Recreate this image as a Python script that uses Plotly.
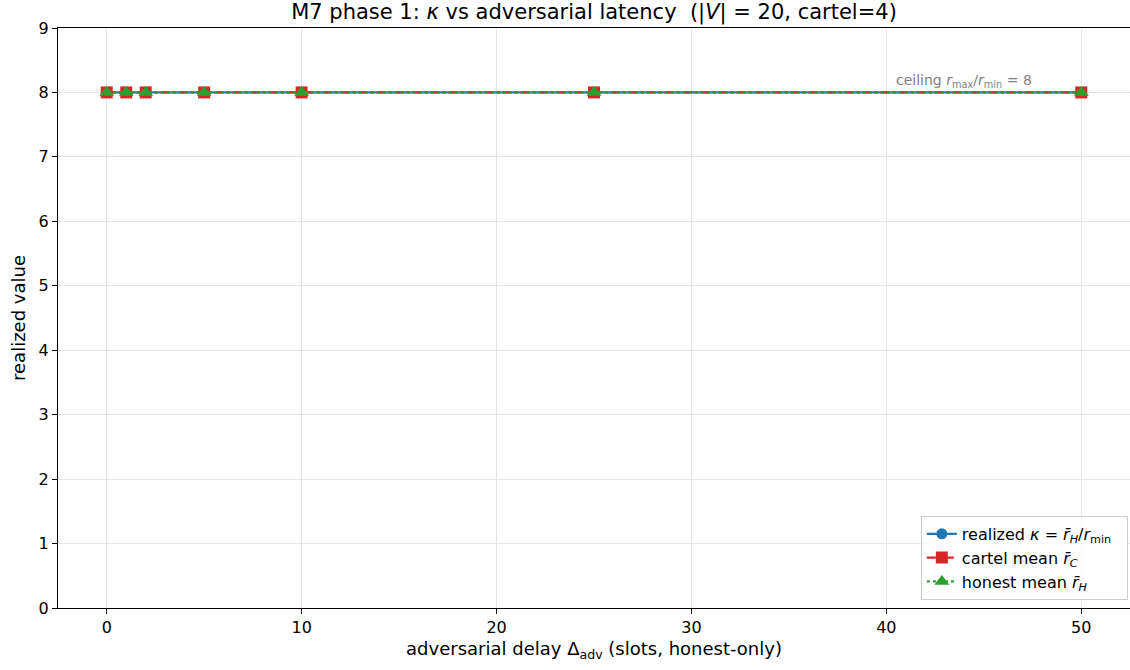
import plotly.graph_objects as go

delays = [0, 1, 2, 5, 10, 25, 50]
kappa = [8, 8, 8, 8, 8, 8, 8]
cartel_mean = [8, 8, 8, 8, 8, 8, 8]
honest_mean = [8, 8, 8, 8, 8, 8, 8]
ceiling = 8
x_ticks = [0, 10, 20, 30, 40, 50]
y_ticks = list(range(0, 10))

FONT = "DejaVu Sans"
W, H = 1130, 670
fig = go.Figure()

fig.add_shape(type="line", xref="paper", x0=0, x1=1, yref="y", y0=ceiling, y1=ceiling,
              line=dict(color="#999999", width=1, dash="dot"), layer="below")

fig.add_trace(go.Scatter(x=delays, y=kappa, mode="lines+markers",
                         name="realized <i>κ</i> = <i>r̄<sub>H</sub></i>/<i>r</i><sub>min</sub>&nbsp;&nbsp;",
                         line=dict(color="#1f77b4", width=2.2),
                         marker=dict(symbol="circle", size=11, color="#1f77b4")))
fig.add_trace(go.Scatter(x=delays, y=cartel_mean, mode="lines+markers",
                         name="cartel mean <i>r̄<sub>C</sub></i>",
                         line=dict(color="#d62728", width=2.2, dash="dashdot"),
                         marker=dict(symbol="square", size=12, color="#d62728")))
fig.add_trace(go.Scatter(x=delays, y=honest_mean, mode="lines+markers",
                         name="honest mean <i>r̄<sub>H</sub></i>",
                         line=dict(color="#2ca02c", width=2.2, dash="dot"),
                         marker=dict(symbol="triangle-up", size=13, color="#2ca02c")))

fig.add_annotation(x=47.6, xref="x", y=ceiling, yref="y",
                   text="ceiling <i>r</i><sub>max</sub>/<i>r</i><sub>min</sub> = 8",
                   showarrow=False, xanchor="right", yanchor="bottom", yshift=0,
                   font=dict(family=FONT, size=14, color="#808080"))

axis_common = dict(showline=True, linecolor="black", linewidth=1, mirror=True,
                   ticks="outside", ticklen=5, tickcolor="black", automargin=False,
                   showgrid=True, gridcolor="#e5e5e5", gridwidth=1, zeroline=False,
                   tickfont=dict(family=FONT, size=16, color="black"))

fig.update_layout(
    width=W, height=H,
    margin=dict(l=58, r=0, t=28, b=62),
    paper_bgcolor="white", plot_bgcolor="white",
    title=dict(text="M7 phase 1: <i>κ</i> vs adversarial latency&nbsp;&nbsp;(|<i>V</i>| = 20, cartel=4)",
               x=0.5, xanchor="center", xref="paper", y=1 - 12 / H, yanchor="middle",
               font=dict(family=FONT, size=21, color="black")),
    xaxis=dict(range=[-2.5, 52.5], tickvals=x_ticks,
               title=dict(text="adversarial delay Δ<sub>adv</sub> (slots, honest-only)",
                          font=dict(family=FONT, size=18, color="black"), standoff=6),
               **axis_common),
    yaxis=dict(range=[0, 9], tickvals=y_ticks,
               title=dict(text="realized value", font=dict(family=FONT, size=18, color="black"), standoff=8),
               **axis_common),
    legend=dict(x=0.998, y=0.014, xanchor="right", yanchor="bottom",
                bgcolor="rgba(255,255,255,0.85)", bordercolor="#cccccc", borderwidth=1,
                font=dict(family=FONT, size=16, color="black"), tracegroupgap=2),
    showlegend=True,
)

fig.write_html("out.html", post_script="document.body.style.margin='0';",
               config={"displayModeBar": False})
